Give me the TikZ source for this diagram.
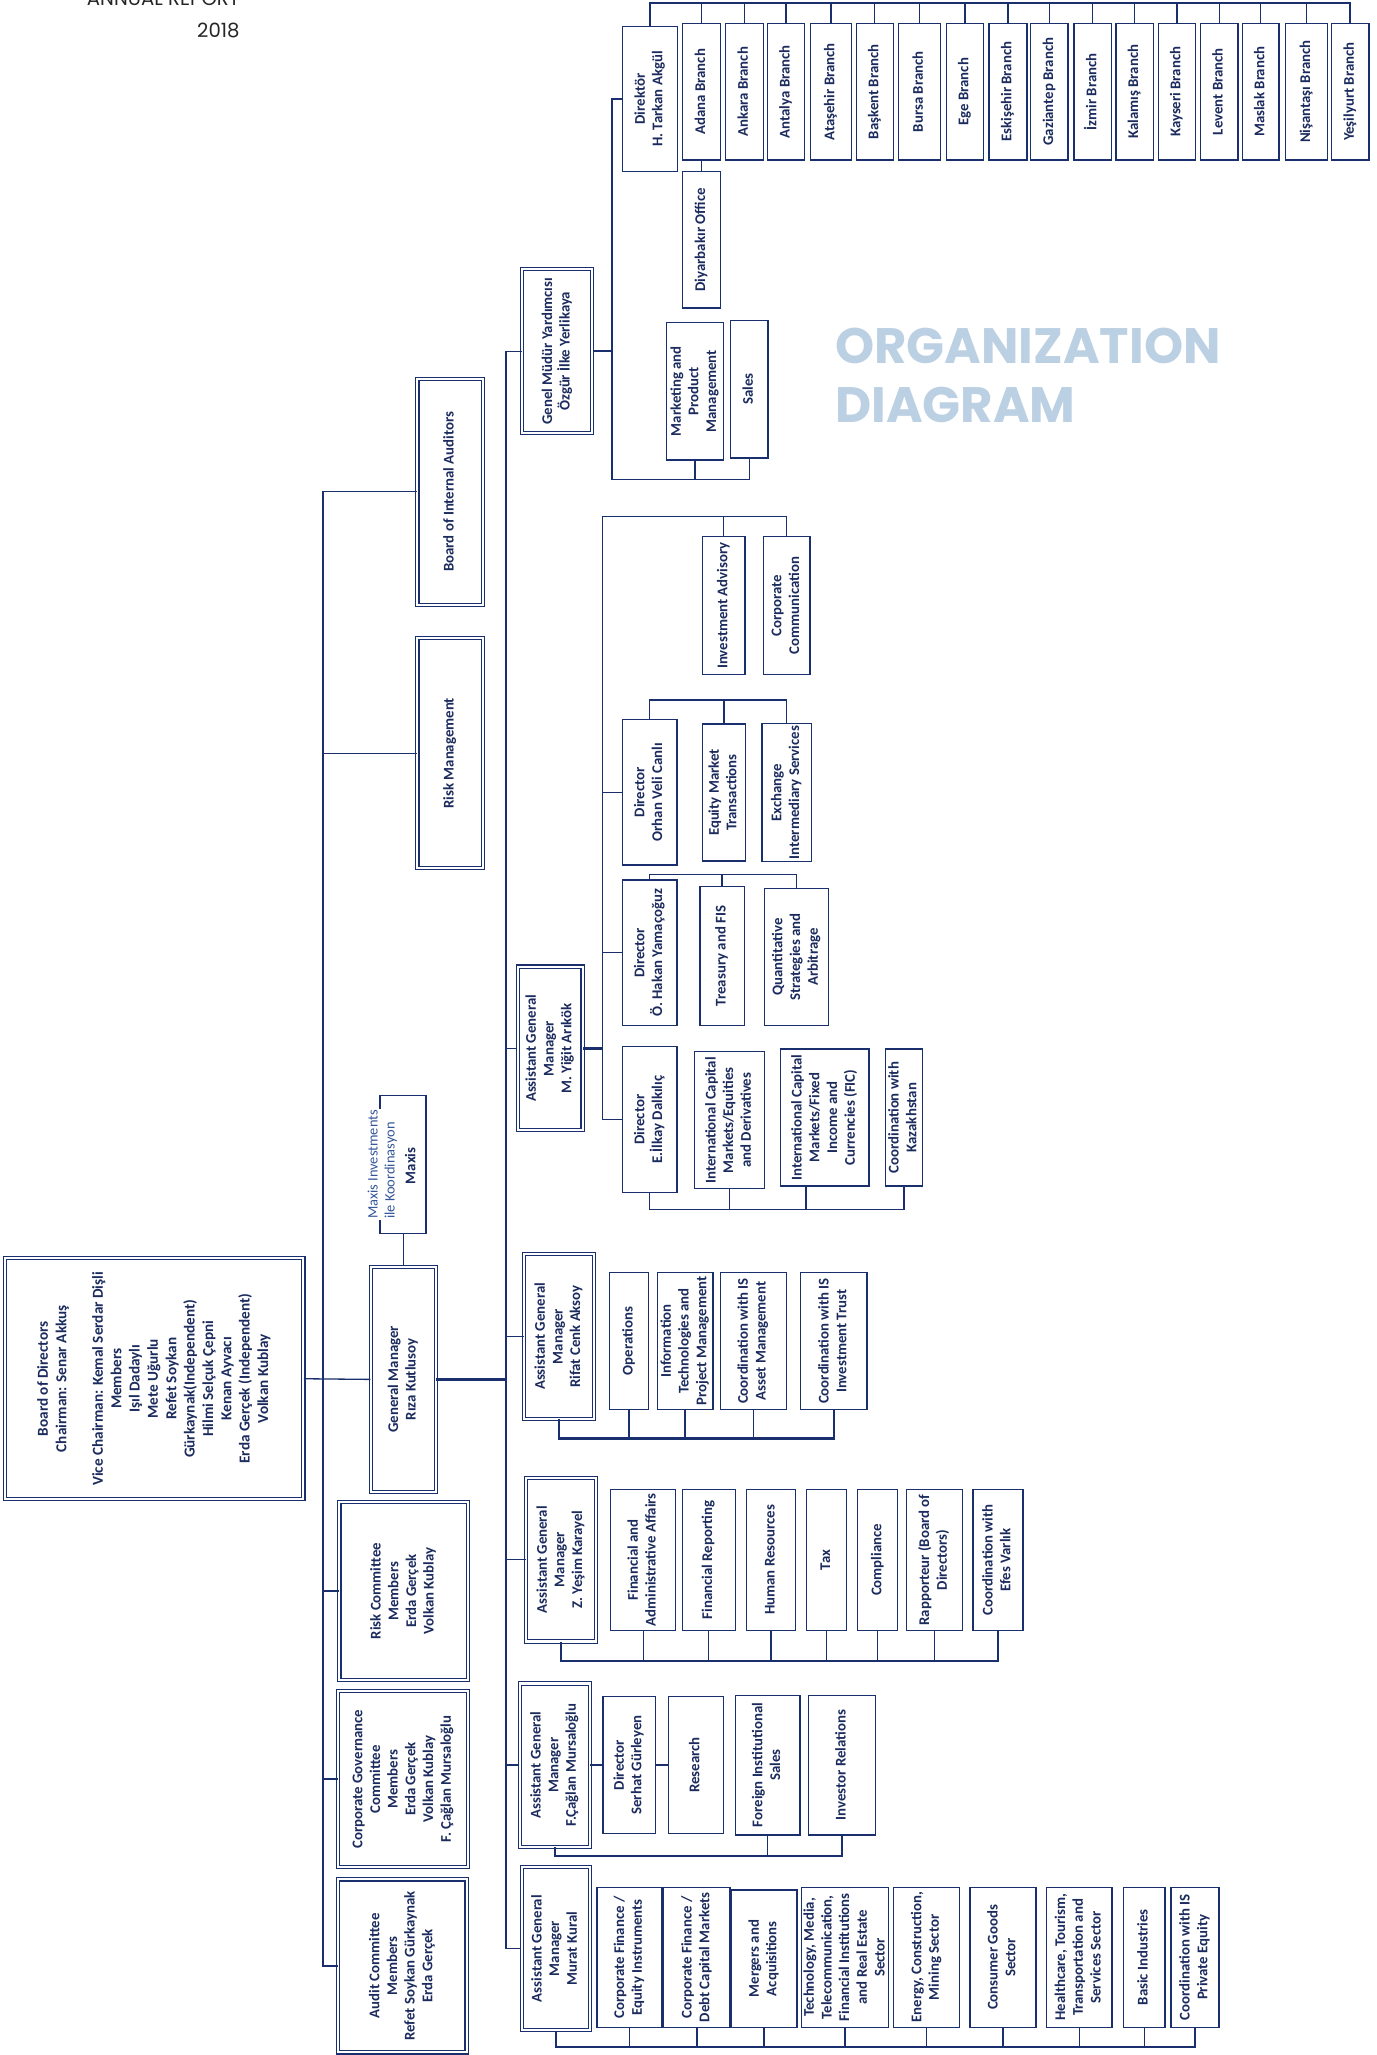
\documentclass[tikz,border=0pt]{standalone}
\usepackage{fontspec}
\usepackage{graphicx}
\setmainfont{Carlito}
\newfontfamily\popfont{Poppins}
\usetikzlibrary{fit}
\definecolor{navy}{HTML}{1A2F6D}
\definecolor{navytext}{HTML}{1B2B5E}
\definecolor{orgblue}{HTML}{BBD0E3}
\definecolor{maxisblue}{HTML}{34559A}
% text set upright in a box, read from bottom to top
\newcommand{\vt}[2][c]{\rotatebox{90}{\makebox[0pt]{\begin{tabular}{@{}#1@{}}#2\end{tabular}}}}
\begin{document}
\begin{tikzpicture}[x=1pt, y=-1pt,
  every node/.style={font=\fontsize{11.3}{13.5}\selectfont\bfseries, text=navytext},
  orgbox/.style={draw=navy, line width=1pt, fill=white, inner sep=0pt},
  mgrbox/.style={orgbox, double=white, double distance=1.6pt, line width=0.8pt},
  link/.style={draw=navy, line width=1pt},
  trunk/.style={draw=navy, line width=1.7pt}
]
\useasboundingbox (0,0) rectangle (1050,1568);
\node[font=\popfont\fontsize{15}{18}\selectfont, text=black!85, anchor=base east, inner sep=0pt] (annual) at (183,4.5) {ANNUAL REPORT};
\node[font=\popfont\fontsize{15}{18}\selectfont, text=black!85, anchor=base east, inner sep=0pt] (year) at (183,28.5) {2018};
\node[font=\popfont\bfseries\fontsize{38}{45}\selectfont, text=orgblue, anchor=base west, inner sep=0pt] (orgtitle) at (637,277) {ORGANIZATION};
\node[font=\popfont\bfseries\fontsize{38}{45}\selectfont, text=orgblue, anchor=base west, inner sep=0pt] (diagtitle) at (637,322.5) {DIAGRAM};

% branches
\node[orgbox, fit={(475,20) (517,131)}] (dir) {\vt{Direktör\\H. Tarkan Akgül}};
\node[orgbox, fit={(521,18) (549.5,122)}] (adana) {\vt{Adana Branch}};
\node[orgbox, fit={(553.5,18) (582.5,122)}] (ankara) {\vt{Ankara Branch}};
\node[orgbox, fit={(585.5,18) (614,122)}] (antalya) {\vt{Antalya Branch}};
\node[orgbox, fit={(618.5,18) (649.5,122)}] (atasehir) {\vt{Ataşehir Branch}};
\node[orgbox, fit={(653.5,18) (681.5,122)}] (baskent) {\vt{Başkent Branch}};
\node[orgbox, fit={(685.5,18) (717.5,122)}] (bursa) {\vt{Bursa Branch}};
\node[orgbox, fit={(722,18) (750.5,122)}] (ege) {\vt{Ege Branch}};
\node[orgbox, fit={(754.5,18) (783.5,122)}] (eskisehir) {\vt{Eskişehir Branch}};
\node[orgbox, fit={(786.5,18) (815,122)}] (gaziantep) {\vt{Gaziantep Branch}};
\node[orgbox, fit={(819.5,18) (848,122)}] (izmir) {\vt{İzmir Branch}};
\node[orgbox, fit={(851.5,18) (880,122)}] (kalamis) {\vt{Kalamış Branch}};
\node[orgbox, fit={(884,18) (912,122)}] (kayseri) {\vt{Kayseri Branch}};
\node[orgbox, fit={(916,18) (944.5,122)}] (levent) {\vt{Levent Branch}};
\node[orgbox, fit={(948,18) (976,122)}] (maslak) {\vt{Maslak Branch}};
\node[orgbox, fit={(981,18) (1013,122)}] (nisantasi) {\vt{Nişantaşı Branch}};
\node[orgbox, fit={(1016,18) (1044.5,122)}] (yesilyurt) {\vt{Yeşilyurt Branch}};
\node[orgbox, fit={(521,131) (549.5,235)}] (diyarbakir) {\vt{Diyarbakır Office}};

% genel mudur yardimcisi
\node[mgrbox, fit={(398.5,205.5) (452,330.5)}] (gmy) {\vt{Genel Müdür Yardımcısı\\Özgür İlke Yerlikaya}};
\node[orgbox, fit={(508.5,246) (552,351)}] (marketing) {\vt{Marketing and\\Product\\Management}};
\node[orgbox, fit={(557.5,244.5) (586,349.5)}] (sales) {\vt{Sales}};

\node[mgrbox, fit={(318.5,289) (368.5,461.5)}] (bia) {\vt{Board of Internal Auditors}};
\node[mgrbox, fit={(318.5,487) (368.5,662.5)}] (riskmgmt) {\vt{Risk Management}};

% yigit arikok
\node[orgbox, fit={(536,409.5) (568.5,514.5)}] (advisory) {\vt{Investment Advisory}};
\node[orgbox, fit={(582.5,409.5) (618,514.5)}] (corpcomm) {\vt{Corporate\\Communication}};
\node[orgbox, fit={(475,549) (516.5,660)}] (orhan) {\vt{Director\\Orhan Veli Canlı}};
\node[orgbox, fit={(536,552.5) (569,657)}] (equity) {\vt{Equity Market\\Transactions}};
\node[orgbox, fit={(581.5,552) (619,657.5)}] (exchange) {\vt{Exchange\\Intermediary Services}};
\node[orgbox, fit={(475,671.5) (516.5,782.5)}] (hakan) {\vt{Director\\Ö. Hakan Yamaçoğuz}};
\node[orgbox, fit={(534,676.5) (568,782.5)}] (treasury) {\vt{Treasury and FIS}};
\node[orgbox, fit={(583.5,678) (632,782.5)}] (quant) {\vt{Quantitative\\Strategies and\\Arbitrage}};
\node[mgrbox, fit={(395,737.5) (444.5,862.5)}] (agmyigit) {\vt{Assistant General\\Manager\\M. Yiğit Arıkök}};
\node[orgbox, fit={(475,798.5) (516.5,910)}] (ilkay) {\vt{Director\\E.İlkay Dalkılıç}};
\node[orgbox, fit={(530,802.5) (583.5,907)}] (icmeq) {\vt{International Capital\\Markets/Equities\\and Derivatives}};
\node[orgbox, fit={(595.5,800.5) (663,905)}] (icmfic) {\vt{International Capital\\Markets/Fixed\\Income and\\Currencies (FIC)}};
\node[orgbox, fit={(675.5,800.5) (704,905)}] (kazakh) {\vt{Coordination with\\Kazakhstan}};

% general manager and board
\node[orgbox, fit={(290,836) (325,941)}] (maxis) {};
\node[font=\fontsize{11}{13}\selectfont, text=maxisblue, fill=white, inner sep=0.5pt] (maxisnote) at (292,888.5) {\rotatebox{90}{\begin{tabular}{@{}l@{}}Maxis Investments\\ile Koordinasyon\end{tabular}}};
\node (maxisname) at (313,889.5) {\rotatebox{90}{Maxis}};
\node[mgrbox, fit={(283,966.5) (332.5,1138.5)}] (gm) {\vt{General Manager\\Rıza Kutlusoy}};
\node[mgrbox, font=\fontsize{11.6}{14}\selectfont\bfseries, fit={(4,960) (231.5,1144)}] (bod) {\vt{Board of Directors\\Chairman: Senar Akkuş\\ \\Vice Chairman: Kemal Serdar Dişli\\Members\\Işıl Dadaylı\\Mete Uğurlu\\Refet Soykan\\Gürkaynak(Independent)\\Hilmi Selçuk Çepni\\Kenan Ayvacı\\Erda Gerçek (Independent)\\Volkan Kublay}};

% rifat cenk aksoy
\node[mgrbox, fit={(400,957) (453,1082.5)}] (rifat) {\vt{Assistant General\\Manager\\Rifat Cenk Aksoy}};
\node[orgbox, fit={(465,971) (495,1075.5)}] (operations) {\vt{Operations}};
\node[orgbox, fit={(501.5,971) (544,1075.5)}] (itpm) {\vt{Information\\Technologies and\\Project Management}};
\node[orgbox, fit={(549.5,971) (600,1075.5)}] (isasset) {\vt{Coordination with IS\\Asset Management}};
\node[orgbox, fit={(611,971) (661.5,1075.5)}] (istrust) {\vt{Coordination with IS\\Investment Trust}};

% committees
\node[mgrbox, fit={(259,1146) (357,1282)}] (riskcom) {\vt{Risk Committee\\Members\\Erda Gerçek\\Volkan Kublay}};
\node[mgrbox, fit={(258,1290.5) (357,1424.5)}] (corpgov) {\vt{Corporate Governance\\Committee\\Members\\Erda Gerçek\\Volkan Kublay\\F. Çağlan Mursaloğlu}};
\node[mgrbox, fit={(258,1434) (356,1566)}] (audit) {\vt{Audit Committee\\Members\\Refet Soykan Gürkaynak\\Erda Gerçek}};

% yesim karayel
\node[mgrbox, fit={(401.5,1127.5) (454.5,1252.5)}] (yesim) {\vt{Assistant General\\Manager\\Z. Yeşim Karayel}};
\node[orgbox, fit={(466,1136.5) (515.5,1244)}] (finadmin) {\vt{Financial and\\Administrative Affairs}};
\node[orgbox, fit={(520.5,1136.5) (561,1244)}] (finrep) {\vt{Financial Reporting}};
\node[orgbox, fit={(569.5,1136.5) (607,1244)}] (hr) {\vt{Human Resources}};
\node[orgbox, fit={(615.5,1136.5) (646,1244)}] (tax) {\vt{Tax}};
\node[orgbox, fit={(654.5,1136.5) (685,1244)}] (compliance) {\vt{Compliance}};
\node[orgbox, fit={(691.5,1136.5) (734.5,1244)}] (rapporteur) {\vt{Rapporteur (Board of\\Directors)}};
\node[orgbox, fit={(742.5,1136.5) (780.5,1244)}] (efes) {\vt{Coordination with\\Efes Varlık}};

% caglan mursaloglu
\node[mgrbox, fit={(396.5,1284.5) (450,1409)}] (caglan) {\vt{Assistant General\\Manager\\F.Çağlan Mursaloğlu}};
\node[orgbox, fit={(460,1294.5) (500,1399)}] (serhat) {\vt{Director\\Serhat Gürleyen}};
\node[orgbox, fit={(510,1294.5) (552,1399)}] (research) {\vt{Research}};
\node[orgbox, fit={(561,1293.5) (610.5,1400)}] (foreign) {\vt{Foreign Institutional\\Sales}};
\node[orgbox, fit={(617,1293.5) (668,1400)}] (investor) {\vt{Investor Relations}};

% murat kural
\node[mgrbox, fit={(398,1424.5) (450,1549)}] (murat) {\vt{Assistant General\\Manager\\Murat Kural}};
\node[orgbox, fit={(455.5,1440) (505,1547)}] (cfequity) {\vt{Corporate Finance /\\Equity Instruments}};
\node[orgbox, fit={(506.5,1440) (557,1547)}] (cfdebt) {\vt{Corporate Finance /\\Debt Capital Markets}};
\node[orgbox, fit={(558,1442) (608,1547)}] (mergers) {\vt{Mergers and\\Acquisitions}};
\node[orgbox, fit={(611.5,1440) (678,1547)}] (tmt) {\vt{Technology, Media,\\Telecommunication,\\Financial Institutions\\and Real Estate\\Sector}};
\node[orgbox, fit={(682,1440) (732,1547)}] (energy) {\vt{Energy, Construction,\\Mining Sector}};
\node[orgbox, fit={(740,1440) (790.5,1547)}] (consumer) {\vt{Consumer Goods\\Sector}};
\node[orgbox, fit={(798.5,1440) (848.5,1547)}] (healthcare) {\vt{Healthcare, Tourism,\\Transportation and\\Services Sector}};
\node[orgbox, fit={(857,1440) (889,1547)}] (basic) {\vt{Basic Industries}};
\node[orgbox, fit={(893.5,1440) (930,1547)}] (privateeq) {\vt{Coordination with IS\\Private Equity}};

% connectors
\coordinate (bbus) at (0,2.5);
\draw[trunk] (dir.north) |- (yesilyurt.north |- bbus) -- (yesilyurt.north);
\draw[link] (adana.north) -- (adana.north |- bbus) (ankara.north) -- (ankara.north |- bbus)
  (antalya.north) -- (antalya.north |- bbus) (atasehir.north) -- (atasehir.north |- bbus)
  (baskent.north) -- (baskent.north |- bbus) (bursa.north) -- (bursa.north |- bbus)
  (ege.north) -- (ege.north |- bbus) (eskisehir.north) -- (eskisehir.north |- bbus)
  (gaziantep.north) -- (gaziantep.north |- bbus) (izmir.north) -- (izmir.north |- bbus)
  (kalamis.north) -- (kalamis.north |- bbus) (kayseri.north) -- (kayseri.north |- bbus)
  (levent.north) -- (levent.north |- bbus) (maslak.north) -- (maslak.north |- bbus)
  (nisantasi.north) -- (nisantasi.north |- bbus);
\draw[link] (adana.south) -- (diyarbakir.north);

\coordinate (gmybus) at (467,366);
\draw[link] (dir.west) -| (gmybus) -| (sales.south);
\draw[link] (marketing.south) -- (marketing.south |- gmybus);
\draw[trunk] (gmy.east) -- (gmy.east -| gmybus);

\coordinate (spine) at (386,0);
\draw[link] (gmy.west) -| (murat.west -| spine) -- (murat.west);
\draw[link] (agmyigit.west) -- (agmyigit.west -| spine);
\draw[link] (rifat.west) -- (rifat.west -| spine);
\draw[link] (yesim.west) -- (yesim.west -| spine);
\draw[link] (caglan.west) -- (caglan.west -| spine);
\draw[trunk] (gm.east) -- (gm.east -| spine);

\coordinate (board) at (246.5,0);
\draw[link] (bia.west) -| (audit.west -| board) -- (audit.west);
\draw[link] (riskmgmt.west) -- (riskmgmt.west -| board);
\draw[link] (riskcom.west) -- (riskcom.west -| board);
\draw[link] (corpgov.west) -- (corpgov.west -| board);
\draw[link] (bod.east) -- (gm.west);
\draw[link] (gm.north) -- (gm.north |- maxis.south);

\coordinate (yigitv) at (459.5,394);
\draw[link] (ilkay.west) -| (yigitv) -| (corpcomm.north);
\draw[link] (advisory.north) -- (advisory.north |- yigitv);
\draw[trunk] (agmyigit.east) -- (agmyigit.east -| yigitv);
\draw[link] (orhan.west) -- (orhan.west -| yigitv);
\draw[link] (hakan.west) -- (hakan.west -| yigitv);
\coordinate (obus) at (0,534);
\draw[link] (orhan.north) |- (exchange.north |- obus) -- (exchange.north);
\draw[link] (equity.north) -- (equity.north |- obus);
\coordinate (hbus) at (0,667.5);
\draw[link] (hakan.north) |- (quant.north |- hbus) -- (quant.north);
\draw[link] (treasury.north) -- (treasury.north |- hbus);
\coordinate (ibus) at (0,923);
\coordinate (ficx) at (615,0);
\draw[link] (ilkay.south) |- (kazakh.south |- ibus) -- (kazakh.south);
\draw[link] (icmeq.south) -- (icmeq.south |- ibus);
\draw[link] (icmfic.south -| ficx) -- (ficx |- ibus);

\coordinate (rbus) at (0,1097.5);
\draw[trunk] (rifat.south) |- (istrust.south |- rbus) -- (istrust.south);
\draw[link] (operations.south) -- (operations.south |- rbus) (itpm.south) -- (itpm.south |- rbus)
  (isasset.south) -- (isasset.south |- rbus);

\coordinate (ybus) at (0,1267.5);
\draw[trunk] (yesim.south) |- (efes.south |- ybus) -- (efes.south);
\draw[link] (finadmin.south) -- (finadmin.south |- ybus) (finrep.south) -- (finrep.south |- ybus)
  (hr.south) -- (hr.south |- ybus) (tax.south) -- (tax.south |- ybus)
  (compliance.south) -- (compliance.south |- ybus) (rapporteur.south) -- (rapporteur.south |- ybus);

\coordinate (cbus) at (0,1416);
\draw[link] (caglan.east) -- (serhat.west);
\draw[link] (serhat.east) -- (research.west);
\draw[trunk] (caglan.south) |- (investor.south |- cbus) -- (investor.south);
\draw[link] (foreign.south) -- (foreign.south |- cbus);

\coordinate (mbus) at (0,1562);
\draw[trunk] (murat.south) |- (privateeq.south |- mbus) -- (privateeq.south);
\draw[link] (cfequity.south) -- (cfequity.south |- mbus) (cfdebt.south) -- (cfdebt.south |- mbus)
  (mergers.south) -- (mergers.south |- mbus) (tmt.south) -- (tmt.south |- mbus)
  (energy.south) -- (energy.south |- mbus) (consumer.south) -- (consumer.south |- mbus)
  (healthcare.south) -- (healthcare.south |- mbus) (basic.south) -- (basic.south |- mbus);
\end{tikzpicture}
\end{document}
